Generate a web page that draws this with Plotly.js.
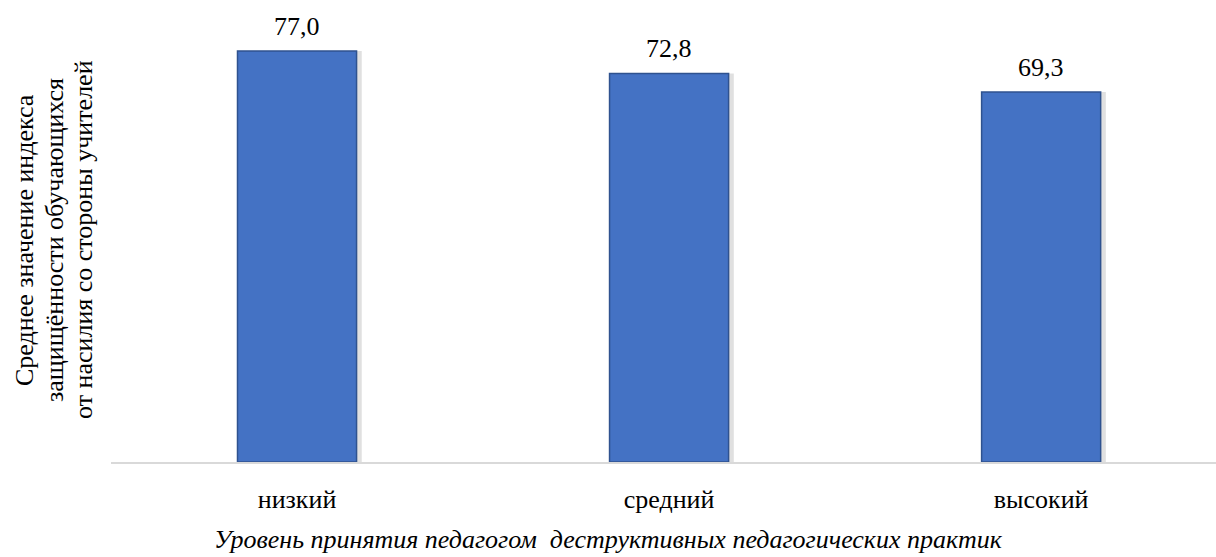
<!DOCTYPE html>
<html>
<head>
<meta charset="utf-8">
<script src="https://cdn.plot.ly/plotly-3.0.1.min.js"></script>
<style>html,body{margin:0;padding:0;background:#fff}#chart{width:1216px;height:557px}</style>
</head>
<body>
<div id="chart"></div>
<script>
const categories = ["низкий", "средний", "высокий"];
const values = [77.0, 72.8, 69.3];
const valueLabels = ["77,0", "72,8", "69,3"];
const yTitleLines = ["Среднее значение индекса", "защищённости обучающихся", "от насилия со стороны учителей"];
const xTitle = "Уровень принятия педагогом  деструктивных педагогических практик";

const font = "'Liberation Serif', 'Times New Roman', Times, serif";
const L = 111, W = 1105, T = 35, H = 427;
const px2x = p => (p - L) / W;
const px2y = p => (T + H - p) / H;

const shadow = {
  type: "bar", x: categories, y: values,
  width: 0.32, offset: -0.16 + 0.014,
  marker: {color: "rgba(0,0,0,0.12)", line: {width: 0}},
  hoverinfo: "skip", showlegend: false
};
const bars = {
  type: "bar", x: categories, y: values,
  width: 0.32, offset: -0.16,
  marker: {color: "#4472C4", line: {color: "#2F528F", width: 1.5}},
  showlegend: false
};

const labelAnnotations = categories.map((c, i) => ({
  xref: "x", yref: "y", x: c, y: values[i],
  text: valueLabels[i], showarrow: false,
  xanchor: "center", yanchor: "bottom", yshift: 8,
  font: {family: font, size: 26, color: "#000"}
}));

const yTitleX = [24, 54, 83];
const yTitleAnnotations = yTitleLines.map((t, i) => ({
  xref: "paper", yref: "paper", x: px2x(yTitleX[i]), y: px2y(240),
  xanchor: "center", yanchor: "middle", textangle: -90, showarrow: false,
  text: t, font: {family: font, size: 26, color: "#000"}
}));

const layout = {
  width: 1216, height: 557,
  margin: {l: L, r: 1216 - L - W, t: T, b: 557 - T - H},
  paper_bgcolor: "#fff", plot_bgcolor: "#fff",
  barmode: "overlay",
  font: {family: font, color: "#000"},
  xaxis: {
    type: "category", range: [-0.5, 2.47],
    showline: true, linecolor: "#D9D9D9", linewidth: 1.5,
    ticks: "outside", ticklen: 13, tickcolor: "rgba(0,0,0,0)",
    tickfont: {family: font, size: 26, color: "#000"},
    showgrid: false, zeroline: false
  },
  yaxis: {
    range: [0, 80], visible: false, showgrid: false, zeroline: false
  },
  annotations: labelAnnotations.concat(yTitleAnnotations, [{
    xref: "paper", yref: "paper", x: px2x(608), y: px2y(539),
    xanchor: "center", yanchor: "middle", showarrow: false,
    text: "<i>" + xTitle + "</i>", font: {family: font, size: 26, color: "#000"}
  }])
};

Plotly.newPlot("chart", [shadow, bars], layout, {displayModeBar: false, staticPlot: true});
</script>
</body>
</html>
